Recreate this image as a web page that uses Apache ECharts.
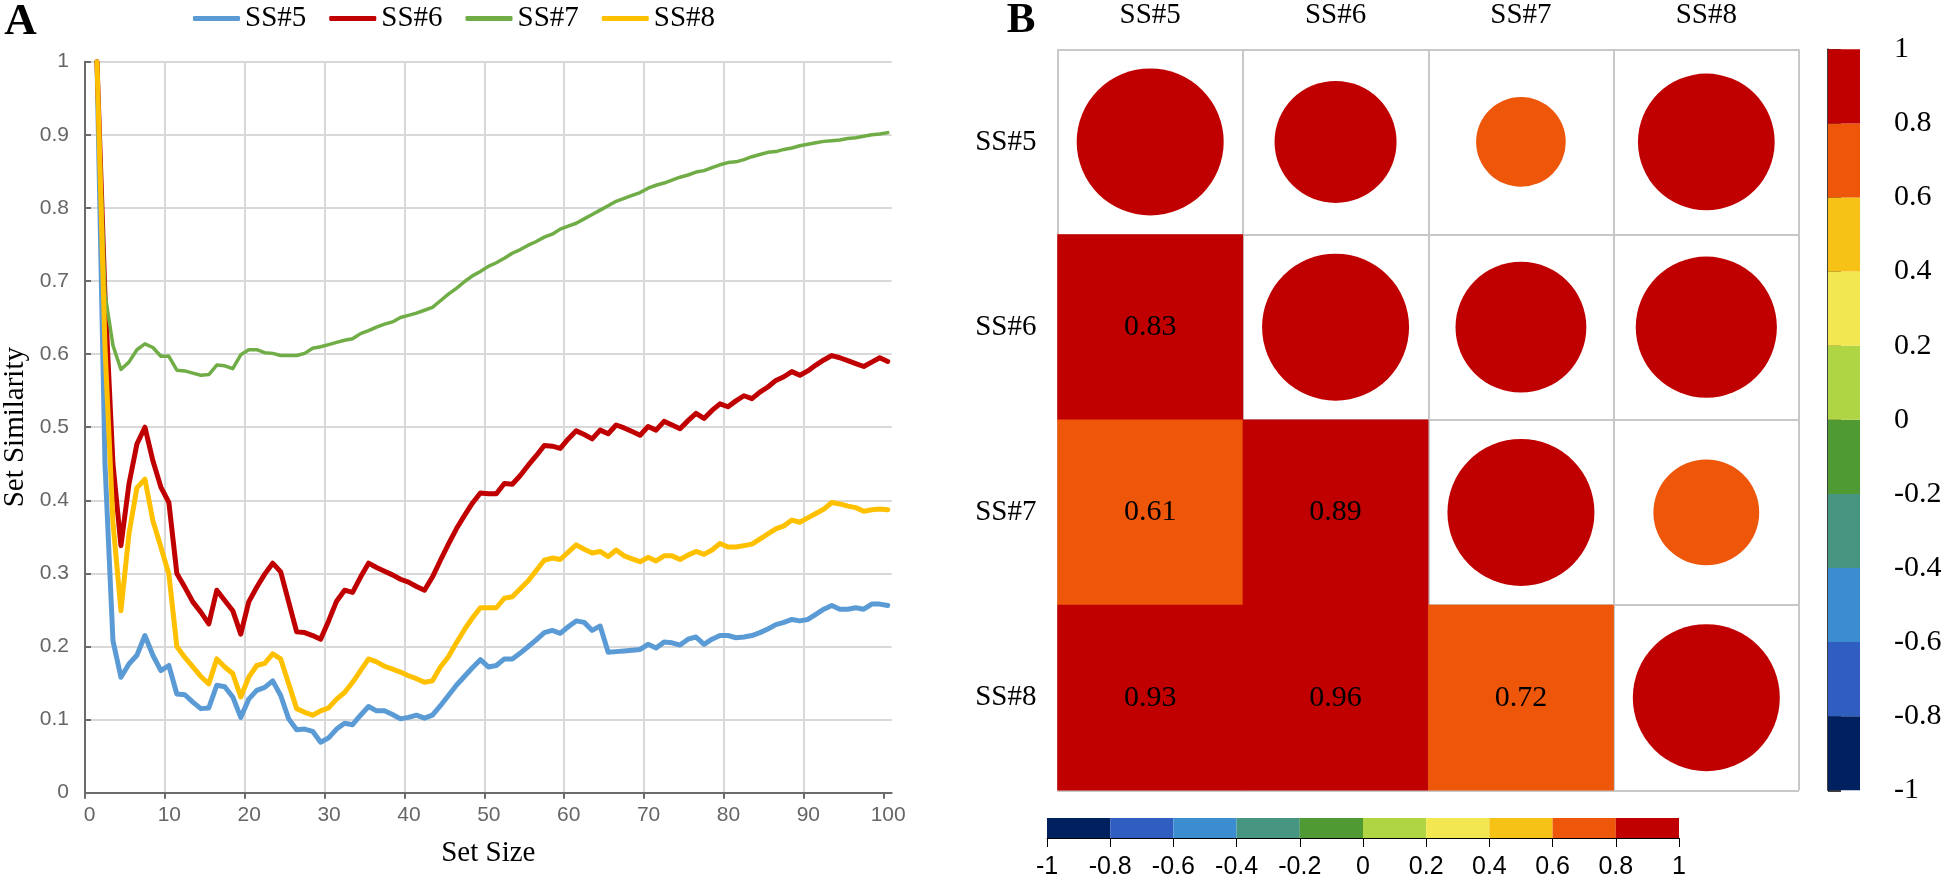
<!DOCTYPE html>
<html><head><meta charset="utf-8">
<script src="https://cdn.jsdelivr.net/npm/echarts@6/dist/echarts.min.js"></script>
<style>html,body{margin:0;padding:0;background:#fff}#c{width:1946px;height:880px}</style>
</head><body><div id="c"></div>
<script>
// ---- Panel A data (points sit half a unit right of each integer set size in the picture)
const setSize = Array.from({length: 100}, (_, i) => i + 1.5);
const ss5 = [1.0,0.45,0.208,0.158,0.176,0.188,0.215,0.188,0.167,0.174,
0.135,0.134,0.124,0.115,0.116,0.147,0.145,0.131,0.103,0.128,
0.140,0.144,0.153,0.133,0.101,0.086,0.087,0.084,0.069,0.075,
0.087,0.095,0.093,0.106,0.118,0.112,0.112,0.107,0.101,0.103,
0.106,0.102,0.106,0.119,0.133,0.147,0.159,0.171,0.182,0.172,
0.174,0.183,0.183,0.191,0.200,0.209,0.219,0.222,0.218,0.227,
0.235,0.233,0.222,0.228,0.192,0.193,0.194,0.195,0.196,0.203,
0.198,0.206,0.205,0.202,0.210,0.213,0.203,0.210,0.215,0.215,
0.212,0.213,0.215,0.219,0.224,0.230,0.233,0.237,0.235,0.237,
0.244,0.251,0.256,0.251,0.251,0.253,0.251,0.258,0.258,0.256];
const ss6 = [1.0,0.68,0.45,0.338,0.422,0.477,0.500,0.454,0.418,0.397,
0.300,0.281,0.261,0.247,0.231,0.277,0.263,0.249,0.217,0.261,
0.281,0.299,0.314,0.302,0.261,0.220,0.219,0.215,0.210,0.235,
0.262,0.277,0.274,0.295,0.314,0.308,0.303,0.298,0.292,0.288,
0.282,0.277,0.295,0.318,0.340,0.361,0.379,0.396,0.410,0.409,
0.409,0.423,0.422,0.434,0.448,0.461,0.475,0.474,0.471,0.484,
0.495,0.490,0.484,0.496,0.491,0.503,0.499,0.494,0.489,0.501,
0.496,0.508,0.503,0.498,0.509,0.519,0.512,0.523,0.532,0.528,
0.536,0.543,0.539,0.548,0.555,0.564,0.569,0.576,0.571,0.577,
0.585,0.592,0.598,0.595,0.591,0.587,0.583,0.589,0.595,0.590];
const ss7 = [1.0,0.683,0.612,0.579,0.589,0.606,0.614,0.609,0.597,0.597,
0.578,0.577,0.574,0.571,0.572,0.585,0.584,0.580,0.599,0.606,
0.606,0.602,0.601,0.598,0.598,0.598,0.601,0.608,0.610,0.613,
0.616,0.619,0.621,0.628,0.632,0.637,0.641,0.644,0.650,0.653,
0.656,0.660,0.664,0.673,0.682,0.690,0.699,0.707,0.713,0.720,
0.725,0.731,0.738,0.743,0.749,0.754,0.760,0.764,0.771,0.775,
0.779,0.785,0.791,0.797,0.803,0.809,0.813,0.817,0.821,0.827,
0.831,0.834,0.838,0.842,0.845,0.849,0.851,0.855,0.859,0.862,
0.863,0.866,0.870,0.873,0.876,0.877,0.880,0.882,0.885,0.887,
0.889,0.891,0.892,0.893,0.895,0.896,0.898,0.900,0.901,0.903];
const ss8 = [1.0,0.61,0.37,0.249,0.354,0.417,0.429,0.372,0.336,0.299,
0.200,0.185,0.172,0.159,0.149,0.183,0.172,0.163,0.131,0.158,
0.174,0.177,0.190,0.183,0.149,0.115,0.110,0.106,0.112,0.116,
0.128,0.137,0.151,0.167,0.183,0.179,0.173,0.169,0.165,0.160,
0.156,0.151,0.153,0.172,0.186,0.205,0.223,0.239,0.253,0.253,
0.253,0.266,0.268,0.279,0.290,0.304,0.318,0.321,0.319,0.329,
0.339,0.333,0.328,0.330,0.323,0.332,0.324,0.320,0.316,0.322,
0.317,0.324,0.324,0.319,0.325,0.330,0.326,0.332,0.341,0.336,
0.336,0.338,0.340,0.347,0.354,0.361,0.365,0.373,0.370,0.376,
0.382,0.388,0.397,0.395,0.392,0.390,0.385,0.387,0.388,0.387];
const seriesNames = ['SS#5','SS#6','SS#7','SS#8'];
const xTicks = [0,10,20,30,40,50,60,70,80,90,100];

// ---- Panel B data
const corrLabels = ['SS#5','SS#6','SS#7','SS#8'];
const corrMatrix = [
  [1.00, 0.83, 0.61, 0.93],
  [0.83, 1.00, 0.89, 0.96],
  [0.61, 0.89, 1.00, 0.72],
  [0.93, 0.96, 0.72, 1.00]
];
const colorBreaks = [-1,-0.8,-0.6,-0.4,-0.2,0,0.2,0.4,0.6,0.8,1];
const binColors = ['#002060','#305EC0','#3B8DD0','#469580','#509A34','#AFD444','#F2E651','#F6C216','#EE560A','#C00000'];

const serif = "'Liberation Serif','Times New Roman',serif";
const sans = "'Liberation Sans',Arial,sans-serif";
const lineColors = ['#5B9BD5','#C00000','#70AD47','#FFC000'];
const lineWidths = [5, 5, 3.5, 5];
const axisGray = '#6b6b6b';

const lineSeries = [ss5, ss6, ss7, ss8].map((vals, k) => ({
  name: seriesNames[k], type: 'line', xAxisIndex: 0, yAxisIndex: 0,
  data: vals.map((v, i) => [setSize[i], v]),
  showSymbol: false, symbol: 'none', smooth: false,
  lineStyle: {color: lineColors[k], width: lineWidths[k], join: 'round', cap: 'round'},
  itemStyle: {color: lineColors[k]},
  z: 2 + k
}));

const upper = [], lower = [];
corrMatrix.forEach((row, r) => row.forEach((v, c) => {
  if (c >= r) upper.push([c, r, v]); else lower.push([c, r, v]);
}));
const pieces = binColors.map((col, i) => {
  const p = {gte: colorBreaks[i], color: col};
  if (i === binColors.length - 1) p.lte = colorBreaks[i + 1]; else p.lt = colorBreaks[i + 1];
  return p;
});
const vBins = binColors.map((col, i) => [{yAxis: colorBreaks[i], itemStyle: {color: col, opacity: 1}}, {yAxis: colorBreaks[i + 1]}]);
const hBins = binColors.map((col, i) => [{xAxis: colorBreaks[i], itemStyle: {color: col, opacity: 1}}, {xAxis: colorBreaks[i + 1]}]);

const chart = echarts.init(document.getElementById('c'));
chart.setOption({
  animation: false,
  backgroundColor: '#fff',
  graphic: [
    {type: 'text', x: 20.5, y: 22, style: {text: 'A', font: "bold 45px 'Liberation Serif', serif", fill: '#000', textAlign: 'center', textVerticalAlign: 'middle'}},
    {type: 'text', x: 1021, y: 21, style: {text: 'B', font: "bold 43px 'Liberation Serif', serif", fill: '#000', textAlign: 'center', textVerticalAlign: 'middle'}}
  ],
  legend: {
    data: seriesNames, left: 188, top: -1, icon: 'roundRect', itemWidth: 47, itemHeight: 5, itemGap: 23,
    textStyle: {fontFamily: serif, fontSize: 29, color: '#000'}
  },
  grid: [
    {left: 85, top: 61.7, width: 806.7, height: 731},
    {left: 1057.5, top: 49.3, width: 741.5, height: 741},
    {left: 1828, top: 49.3, width: 32, height: 741},
    {left: 1047, top: 818, width: 632, height: 20}
  ],
  xAxis: [
    {type: 'value', gridIndex: 0, min: 0, max: 101, interval: 10,
     axisLine: {show: true, lineStyle: {color: axisGray, width: 2}},
     axisTick: {show: true, length: 6, customValues: xTicks, lineStyle: {color: axisGray, width: 2}},
     axisLabel: {customValues: xTicks, fontSize: 21, color: '#666', fontFamily: sans, margin: 12, padding: [0, 0, 0, 9]},
     splitLine: {show: true, showMaxLine: false, lineStyle: {color: '#d9d9d9', width: 2}},
     name: 'Set Size', nameLocation: 'middle', nameGap: 46,
     nameTextStyle: {fontFamily: serif, fontSize: 29, color: '#000'}},
    {type: 'category', gridIndex: 1, data: corrLabels, position: 'top',
     axisLine: {show: false}, axisTick: {show: false},
     axisLabel: {fontFamily: serif, fontSize: 29, color: '#000', margin: 19},
     splitLine: {show: true, interval: 0, lineStyle: {color: '#c8c8c8', width: 2}}},
    {type: 'value', gridIndex: 2, min: 0, max: 1, show: false},
    {type: 'value', gridIndex: 3, min: -1, max: 1, interval: 0.2, position: 'bottom',
     axisLine: {show: true, lineStyle: {color: '#000', width: 1}},
     axisTick: {show: true, length: 9, lineStyle: {color: '#000', width: 1}},
     axisLabel: {fontFamily: sans, fontSize: 25, color: '#000', margin: 17},
     splitLine: {show: false}}
  ],
  yAxis: [
    {type: 'value', gridIndex: 0, min: 0, max: 1, interval: 0.1,
     axisLine: {show: true, lineStyle: {color: axisGray, width: 2}},
     axisTick: {show: true, inside: true, length: 6, lineStyle: {color: axisGray, width: 2}},
     axisLabel: {fontSize: 21, color: '#666', fontFamily: sans, margin: 16},
     splitLine: {show: true, lineStyle: {color: '#d9d9d9', width: 2}},
     name: 'Set Similarity', nameLocation: 'middle', nameGap: 55,
     nameTextStyle: {fontFamily: serif, fontSize: 29, color: '#000'}},
    {type: 'category', gridIndex: 1, data: corrLabels, inverse: true,
     axisLine: {show: false}, axisTick: {show: false},
     axisLabel: {fontFamily: serif, fontSize: 29, color: '#000', margin: 21},
     splitLine: {show: true, interval: 0, lineStyle: {color: '#c8c8c8', width: 2}}},
    {type: 'value', gridIndex: 2, min: -1, max: 1, interval: 0.2, position: 'right',
     axisLine: {show: true, lineStyle: {color: '#000', width: 1.5}},
     axisTick: {show: true, length: 13, lineStyle: {color: '#000', width: 1.5}},
     axisLabel: {fontFamily: serif, fontSize: 30, color: '#000', margin: 34},
     splitLine: {show: false}},
    {type: 'value', gridIndex: 3, min: 0, max: 1, show: false}
  ],
  visualMap: [{type: 'piecewise', show: false, dimension: 2, seriesIndex: [4, 5], pieces: pieces}],
  series: lineSeries.concat([
    {type: 'heatmap', xAxisIndex: 1, yAxisIndex: 1, data: lower,
     label: {show: true, formatter: p => p.value[2].toFixed(2), fontFamily: serif, fontSize: 30, color: '#000'},
     itemStyle: {borderWidth: 0}, emphasis: {disabled: true}},
    {type: 'scatter', xAxisIndex: 1, yAxisIndex: 1, data: upper, symbol: 'circle',
     symbolSize: v => v[2] * 147, itemStyle: {opacity: 1}, emphasis: {disabled: true}},
    {type: 'line', xAxisIndex: 2, yAxisIndex: 2, data: [], silent: true,
     markArea: {silent: true, data: vBins}},
    {type: 'line', xAxisIndex: 3, yAxisIndex: 3, data: [], silent: true,
     markArea: {silent: true, data: hBins}}
  ])
});
</script></body></html>
